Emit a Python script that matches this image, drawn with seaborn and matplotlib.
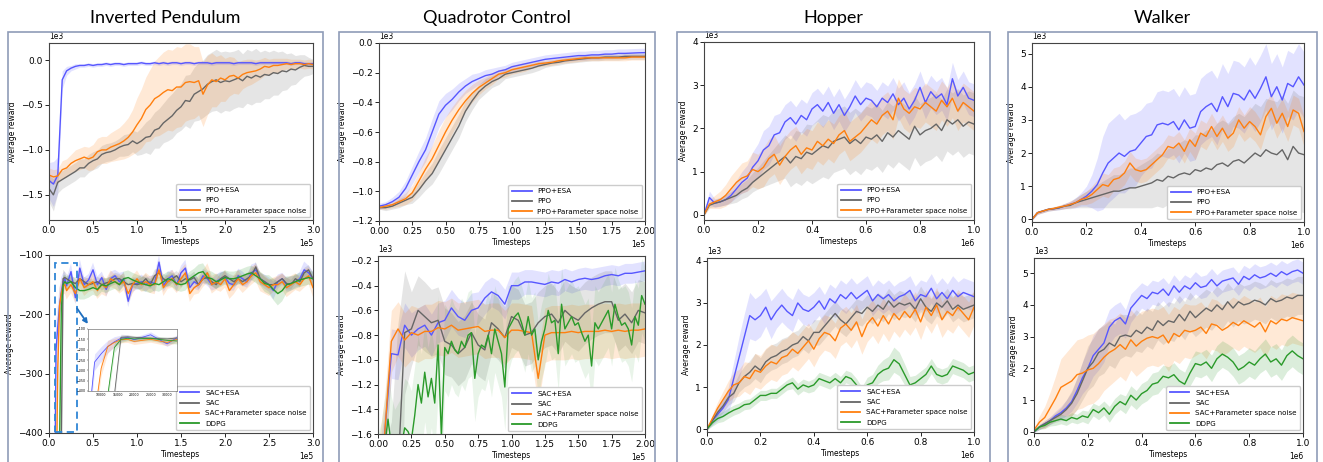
import numpy as np
import matplotlib
matplotlib.use("Agg")
import matplotlib.pyplot as plt
import seaborn as sns
from matplotlib.patches import Rectangle

# ---------------- DATA (rewards in units of 1e3 unless noted) ----------------
# Inverted Pendulum, PPO family (x: 0..3e5)
IP_PPO_ESA = [-1.34, -1.38, -1.28, -0.22, -0.12, -0.09, -0.07, -0.06, -0.06, -0.05,
              -0.06, -0.05, -0.05, -0.04, -0.05, -0.04, -0.04, -0.05, -0.04, -0.04,
              -0.04, -0.03, -0.04, -0.04, -0.03, -0.04, -0.03, -0.04, -0.03, -0.03,
              -0.04, -0.03, -0.03, -0.04, -0.03, -0.03, -0.03, -0.04, -0.03, -0.03,
              -0.03, -0.03, -0.04, -0.03, -0.03, -0.03, -0.03, -0.04, -0.03, -0.03,
              -0.03, -0.03, -0.03, -0.03, -0.03, -0.04, -0.03, -0.03, -0.04, -0.04, -0.04]
IP_PPO_ESA_SD = [0.2, 0.25, 0.2, 0.1, 0.05, 0.03, 0.03, 0.02, 0.02, 0.02,
                 0.02, 0.02, 0.02, 0.02, 0.02, 0.02, 0.02, 0.02, 0.02, 0.02,
                 0.02, 0.02, 0.02, 0.02, 0.02, 0.02, 0.02, 0.02, 0.02, 0.02,
                 0.02, 0.02, 0.02, 0.02, 0.02, 0.02, 0.02, 0.02, 0.02, 0.02,
                 0.02, 0.02, 0.02, 0.02, 0.02, 0.02, 0.02, 0.02, 0.02, 0.02,
                 0.02, 0.02, 0.02, 0.02, 0.02, 0.02, 0.02, 0.02, 0.02, 0.02, 0.02]
IP_PPO = [-1.43, -1.5, -1.36, -1.33, -1.3, -1.27, -1.24, -1.2, -1.2, -1.15,
          -1.12, -1.1, -1.05, -1.03, -1.02, -1.0, -0.97, -0.95, -0.94, -0.9,
          -0.93, -0.9, -0.86, -0.85, -0.78, -0.76, -0.7, -0.66, -0.62, -0.56,
          -0.52, -0.45, -0.46, -0.38, -0.35, -0.32, -0.27, -0.24, -0.22, -0.25,
          -0.23, -0.24, -0.22, -0.2, -0.23, -0.18, -0.2, -0.17, -0.19, -0.16,
          -0.17, -0.14, -0.15, -0.12, -0.13, -0.1, -0.11, -0.08, -0.06, -0.07, -0.07]
IP_PPO_SD = [0.15, 0.18, 0.12, 0.1, 0.1, 0.1, 0.1, 0.1, 0.1, 0.1,
             0.1, 0.1, 0.1, 0.1, 0.1, 0.1, 0.1, 0.12, 0.12, 0.12,
             0.13, 0.15, 0.17, 0.2, 0.2, 0.22, 0.22, 0.24, 0.25, 0.25,
             0.26, 0.28, 0.3, 0.3, 0.32, 0.32, 0.33, 0.33, 0.34, 0.34,
             0.33, 0.33, 0.32, 0.32, 0.3, 0.3, 0.3, 0.3, 0.28, 0.27,
             0.26, 0.25, 0.24, 0.22, 0.2, 0.18, 0.16, 0.14, 0.12, 0.1, 0.08]
IP_PPO_PAR = [-1.28, -1.3, -1.29, -1.22, -1.2, -1.15, -1.12, -1.1, -1.08, -1.1,
              -1.08, -1.02, -1.0, -1.0, -0.97, -0.95, -0.93, -0.9, -0.86, -0.8,
              -0.72, -0.65, -0.55, -0.5, -0.43, -0.4, -0.36, -0.33, -0.34, -0.3,
              -0.3, -0.25, -0.24, -0.25, -0.23, -0.38, -0.28, -0.22, -0.24, -0.2,
              -0.22, -0.18, -0.17, -0.2, -0.16, -0.14, -0.13, -0.12, -0.1, -0.07,
              -0.08, -0.06, -0.06, -0.05, -0.04, -0.05, -0.04, -0.04, -0.05, -0.04, -0.05]
IP_PPO_PAR_SD = [0.08, 0.08, 0.08, 0.1, 0.1, 0.1, 0.12, 0.12, 0.12, 0.13,
                 0.14, 0.15, 0.15, 0.15, 0.16, 0.17, 0.18, 0.2, 0.22, 0.25,
                 0.3, 0.33, 0.36, 0.4, 0.42, 0.44, 0.45, 0.45, 0.45, 0.45,
                 0.44, 0.43, 0.42, 0.4, 0.38, 0.36, 0.33, 0.3, 0.28, 0.26,
                 0.24, 0.22, 0.2, 0.18, 0.16, 0.15, 0.14, 0.12, 0.11, 0.1,
                 0.09, 0.08, 0.08, 0.07, 0.06, 0.06, 0.05, 0.05, 0.05, 0.05, 0.05]

# Inverted Pendulum, SAC family (raw reward units; x in timesteps)
IP_SAC_X_EARLY = [0, 5000, 7000, 8000, 10000, 12000, 14000, 16000, 18000]
IP_SAC_X_LATE_RANGE = (20000, 300000)
IP_SAC_ESA = [-1500, -900, -420, -260, -220, -185, -162, -145, -140,
              -152, -128, -172, -122, -150, -142, -125, -150, -138, -158,
              -140, -135, -145, -140, -178, -150, -148, -145, -150, -145,
              -148, -112, -152, -140, -135, -150, -130, -122, -155, -145,
              -150, -135, -140, -150, -145, -140, -138, -148, -150, -135,
              -140, -145, -130, -125, -140, -145, -150, -160, -145, -140,
              -150, -148, -145, -140, -125, -130, -140]
IP_SAC_ESA_SD = [0, 0, 40, 40, 35, 30, 25, 15, 12,
                 12, 14, 12, 15, 12, 10, 12, 14, 10, 12,
                 12, 10, 15, 12, 10, 12, 10, 12, 12, 10,
                 15, 12, 10, 12, 10, 12, 12, 14, 10, 12,
                 10, 12, 12, 10, 12, 12, 10, 12, 10, 12,
                 12, 10, 14, 12, 10, 12, 12, 15, 12, 10,
                 12, 12, 10, 12, 14, 12, 12]
IP_SAC = [-1500, -1400, -1300, -1200, -900, -700, -420, -140, -138,
          -140, -145, -148, -140, -145, -150, -148, -145, -150, -147,
          -145, -140, -140, -145, -150, -148, -150, -148, -140, -150,
          -135, -130, -140, -145, -140, -135, -145, -140, -142, -138,
          -150, -140, -138, -145, -150, -140, -135, -140, -145, -140,
          -145, -140, -135, -120, -140, -145, -150, -150, -145, -140,
          -148, -150, -140, -145, -130, -125, -140]
IP_SAC_SD = [0, 0, 0, 0, 30, 30, 30, 15, 10,
             8, 8, 10, 8, 8, 10, 8, 8, 10, 8,
             8, 10, 8, 8, 10, 8, 8, 10, 8, 8,
             10, 8, 8, 10, 8, 8, 10, 8, 8, 10,
             8, 8, 10, 8, 8, 10, 8, 8, 10, 8,
             8, 10, 8, 8, 10, 8, 8, 10, 8, 8,
             10, 8, 8, 10, 8, 8, 10]
IP_SAC_PAR = [-1500, -1100, -700, -520, -290, -185, -165, -152, -150,
              -160, -150, -165, -140, -155, -150, -145, -160, -150, -155,
              -140, -145, -150, -145, -165, -150, -140, -150, -145, -150,
              -150, -125, -155, -145, -140, -150, -140, -130, -165, -155,
              -150, -140, -130, -150, -145, -150, -140, -160, -150, -140,
              -150, -145, -135, -130, -145, -150, -155, -150, -150, -145,
              -155, -150, -145, -150, -140, -135, -155]
IP_SAC_PAR_SD = [0, 0, 40, 40, 35, 30, 20, 15, 15,
                 15, 14, 16, 15, 14, 12, 15, 14, 16, 15,
                 14, 12, 15, 14, 16, 15, 14, 12, 15, 14,
                 16, 15, 14, 12, 15, 14, 16, 15, 14, 12,
                 15, 14, 16, 15, 14, 12, 15, 14, 16, 15,
                 14, 12, 15, 14, 16, 15, 14, 12, 15, 14,
                 16, 15, 14, 12, 15, 14, 16]
IP_DDPG = [-1500, -1300, -1100, -1000, -700, -420, -190, -150, -145,
           -148, -145, -155, -160, -160, -158, -155, -158, -150, -152,
           -148, -145, -150, -140, -138, -142, -145, -148, -150, -152,
           -148, -150, -145, -140, -142, -148, -150, -148, -140, -135,
           -130, -128, -138, -140, -145, -142, -138, -140, -140, -138,
           -135, -132, -130, -135, -140, -148, -150, -158, -165, -160,
           -150, -148, -145, -142, -140, -138, -140]
IP_DDPG_SD = [0, 0, 0, 0, 30, 30, 25, 15, 12,
              12, 12, 14, 15, 15, 14, 12, 12, 12, 12,
              12, 12, 12, 12, 12, 12, 12, 12, 12, 12,
              12, 12, 12, 12, 12, 12, 12, 12, 12, 12,
              14, 14, 12, 12, 12, 12, 12, 12, 12, 12,
              12, 12, 12, 12, 12, 14, 16, 18, 20, 18,
              14, 12, 12, 12, 12, 12, 12]

# Quadrotor Control, PPO family (x: 0..2e5)
QC_PPO_ESA = [-1.10, -1.09, -1.07, -1.04, -0.98, -0.89, -0.8, -0.72, -0.6, -0.48,
              -0.42, -0.38, -0.33, -0.29, -0.26, -0.24, -0.22, -0.21, -0.19, -0.18,
              -0.16, -0.15, -0.14, -0.13, -0.12, -0.11, -0.105, -0.1, -0.095, -0.09,
              -0.085, -0.085, -0.08, -0.08, -0.075, -0.075, -0.07, -0.07, -0.068, -0.066, -0.065]
QC_PPO_ESA_SD = [0.02, 0.02, 0.03, 0.04, 0.05, 0.06, 0.07, 0.08, 0.09, 0.09,
                 0.08, 0.07, 0.06, 0.05, 0.05, 0.04, 0.04, 0.04, 0.03, 0.03,
                 0.03, 0.03, 0.03, 0.03, 0.03, 0.03, 0.03, 0.03, 0.03, 0.03,
                 0.03, 0.03, 0.03, 0.03, 0.03, 0.03, 0.03, 0.03, 0.03, 0.03, 0.03]
QC_PPO = [-1.11, -1.11, -1.1, -1.08, -1.06, -1.04, -0.99, -0.93, -0.88, -0.8,
          -0.72, -0.64, -0.56, -0.46, -0.39, -0.33, -0.29, -0.26, -0.24, -0.21,
          -0.2, -0.19, -0.18, -0.17, -0.155, -0.145, -0.135, -0.13, -0.12, -0.115,
          -0.11, -0.105, -0.1, -0.1, -0.095, -0.095, -0.095, -0.09, -0.09, -0.09, -0.09]
QC_PPO_SD = [0.01, 0.02, 0.02, 0.03, 0.03, 0.04, 0.05, 0.06, 0.07, 0.08,
             0.08, 0.08, 0.08, 0.07, 0.06, 0.05, 0.05, 0.04, 0.04, 0.03,
             0.03, 0.03, 0.03, 0.03, 0.03, 0.02, 0.02, 0.02, 0.02, 0.02,
             0.02, 0.02, 0.02, 0.02, 0.02, 0.02, 0.02, 0.02, 0.02, 0.02, 0.02]
QC_PPO_PAR = [-1.11, -1.1, -1.09, -1.07, -1.05, -1.01, -0.93, -0.85, -0.78, -0.69,
              -0.6, -0.52, -0.45, -0.39, -0.34, -0.3, -0.27, -0.24, -0.21, -0.2,
              -0.18, -0.17, -0.16, -0.15, -0.14, -0.135, -0.13, -0.12, -0.115, -0.11,
              -0.105, -0.1, -0.1, -0.1, -0.1, -0.1, -0.1, -0.1, -0.095, -0.095, -0.095]
QC_PPO_PAR_SD = [0.01, 0.02, 0.02, 0.03, 0.04, 0.05, 0.06, 0.08, 0.09, 0.1,
                 0.1, 0.09, 0.08, 0.07, 0.06, 0.05, 0.04, 0.04, 0.03, 0.03,
                 0.03, 0.03, 0.03, 0.02, 0.02, 0.02, 0.02, 0.02, 0.02, 0.02,
                 0.02, 0.02, 0.02, 0.02, 0.02, 0.02, 0.02, 0.02, 0.02, 0.02, 0.02]

# Quadrotor Control, SAC family (x: 0..2e5)
QC_SAC_ESA = [-2.0, -1.6, -0.95, -0.96, -0.72, -0.8, -0.75, -0.72, -0.8, -0.7,
              -0.68, -0.58, -0.65, -0.68, -0.6, -0.58, -0.5, -0.45, -0.48, -0.55,
              -0.4, -0.4, -0.37, -0.37, -0.38, -0.39, -0.37, -0.38, -0.35, -0.37,
              -0.35, -0.34, -0.35, -0.34, -0.32, -0.31, -0.32, -0.3, -0.3, -0.29, -0.28]
QC_SAC_ESA_SD = [0.2, 0.2, 0.2, 0.2, 0.18, 0.18, 0.17, 0.17, 0.17, 0.16,
                 0.16, 0.15, 0.15, 0.14, 0.14, 0.13, 0.13, 0.12, 0.12, 0.12,
                 0.11, 0.11, 0.1, 0.1, 0.1, 0.1, 0.1, 0.1, 0.09, 0.09,
                 0.09, 0.09, 0.09, 0.09, 0.08, 0.08, 0.08, 0.08, 0.08, 0.08, 0.08]
QC_SAC = [-2.0, -2.0, -2.0, -1.9, -0.78, -0.75, -0.6, -0.65, -0.7, -0.68,
          -0.85, -0.88, -0.95, -0.9, -0.78, -0.88, -0.92, -0.7, -0.75, -0.82,
          -0.65, -0.68, -0.8, -0.78, -0.7, -0.65, -0.63, -0.7, -0.6, -0.65,
          -0.68, -0.62, -0.58, -0.55, -0.53, -0.53, -0.68, -0.63, -0.7, -0.6, -0.62]
QC_SAC_SD = [0.3, 0.3, 0.5, 1.2, 0.5, 0.3, 0.28, 0.28, 0.27, 0.27,
             0.27, 0.26, 0.26, 0.26, 0.25, 0.25, 0.25, 0.25, 0.25, 0.25,
             0.25, 0.25, 0.25, 0.25, 0.25, 0.25, 0.25, 0.25, 0.25, 0.25,
             0.25, 0.25, 0.25, 0.25, 0.25, 0.25, 0.25, 0.25, 0.25, 0.25, 0.25]
QC_SAC_PAR = [-2.0, -1.6, -0.85, -0.75, -0.84, -0.78, -0.8, -0.77, -0.77, -0.74,
              -0.75, -0.72, -0.76, -0.75, -0.74, -0.73, -0.77, -0.76, -0.76, -0.82,
              -0.76, -0.76, -0.77, -0.78, -1.15, -0.8, -0.78, -0.78, -0.78, -0.77,
              -0.78, -0.77, -0.77, -0.77, -0.76, -0.77, -0.76, -0.77, -0.76, -0.76, -0.75]
QC_SAC_PAR_SD = [0.3, 0.3, 0.25, 0.22, 0.22, 0.22, 0.22, 0.22, 0.22, 0.22,
                 0.22, 0.22, 0.22, 0.22, 0.22, 0.22, 0.22, 0.22, 0.22, 0.22,
                 0.22, 0.22, 0.22, 0.22, 0.22, 0.22, 0.22, 0.22, 0.22, 0.22,
                 0.22, 0.22, 0.22, 0.22, 0.22, 0.22, 0.22, 0.22, 0.22, 0.22, 0.22]
QC_DDPG = [-2.0, -1.9, -1.7, -1.48, -1.7, -1.8, -1.75, -1.7, -1.55, -1.58,
           -1.65, -1.45, -1.2, -1.35, -1.1, -1.3, -1.15, -1.35, -0.88, -1.62,
           -0.9, -0.95, -0.85, -0.92, -0.95, -0.85, -0.9, -0.8, -0.78, -1.15,
           -0.95, -0.88, -0.9, -0.8, -0.95, -0.75, -0.85, -0.95, -1.22, -0.75,
           -0.7, -0.65, -0.62, -0.7, -0.8, -0.65, -0.8, -0.75, -1.0, -0.85,
           -0.75, -0.6, -0.7, -0.68, -0.95, -0.55, -0.75, -0.7, -0.65, -0.72,
           -0.7, -0.78, -0.85, -0.8, -1.05, -0.7, -0.75, -0.7, -0.65, -0.6,
           -0.75, -0.55, -0.65, -0.72, -0.7, -0.75, -0.88, -0.65, -0.72, -0.48, -0.55]
QC_DDPG_SD = [0.4, 0.4, 0.4, 0.4, 0.4, 0.4, 0.4, 0.4, 0.4, 0.4,
              0.4, 0.4, 0.4, 0.4, 0.4, 0.4, 0.4, 0.4, 0.4, 0.4,
              0.35, 0.35, 0.35, 0.35, 0.35, 0.35, 0.35, 0.35, 0.35, 0.35,
              0.35, 0.35, 0.35, 0.35, 0.35, 0.35, 0.35, 0.35, 0.35, 0.35,
              0.3, 0.3, 0.3, 0.3, 0.3, 0.3, 0.3, 0.3, 0.3, 0.3,
              0.3, 0.3, 0.3, 0.3, 0.3, 0.3, 0.3, 0.3, 0.3, 0.3,
              0.3, 0.3, 0.3, 0.3, 0.3, 0.3, 0.3, 0.3, 0.3, 0.3,
              0.3, 0.3, 0.3, 0.3, 0.3, 0.3, 0.3, 0.3, 0.3, 0.3, 0.3]

# Hopper, PPO family (x: 0..1e6)
HO_PPO_ESA = [0.0, 0.4, 0.27, 0.3, 0.35, 0.45, 0.6, 0.75, 0.85, 1.1,
              1.25, 1.5, 1.6, 1.85, 1.9, 2.15, 2.25, 2.1, 2.3, 2.2,
              2.45, 2.55, 2.4, 2.6, 2.35, 2.55, 2.3, 2.5, 2.75, 2.55,
              2.7, 2.65, 2.5, 2.7, 2.6, 2.8, 2.55, 2.7, 2.45, 2.65,
              2.95, 2.6, 2.85, 2.7, 2.8, 2.55, 3.15, 2.75, 2.95, 2.7, 2.65]
HO_PPO_ESA_SD = [0.02, 0.15, 0.1, 0.1, 0.12, 0.15, 0.2, 0.25, 0.3, 0.35,
                 0.4, 0.45, 0.45, 0.45, 0.45, 0.4, 0.4, 0.4, 0.38, 0.38,
                 0.38, 0.38, 0.38, 0.38, 0.38, 0.38, 0.38, 0.38, 0.38, 0.38,
                 0.38, 0.38, 0.38, 0.38, 0.38, 0.38, 0.38, 0.38, 0.38, 0.38,
                 0.38, 0.38, 0.38, 0.38, 0.38, 0.38, 0.38, 0.38, 0.38, 0.38, 0.38]
HO_PPO = [0.0, 0.22, 0.27, 0.3, 0.35, 0.4, 0.45, 0.55, 0.62, 0.75,
          0.85, 0.95, 1.05, 1.15, 1.25, 1.35, 1.2, 1.35, 1.3, 1.45,
          1.4, 1.5, 1.6, 1.55, 1.7, 1.75, 1.8, 1.65, 1.75, 1.65,
          1.8, 1.75, 1.85, 1.7, 1.9, 1.8, 1.95, 1.85, 1.75, 2.05,
          1.85, 1.95, 2.0, 2.1, 1.95, 2.2, 2.1, 2.2, 2.05, 2.15, 2.1]
HO_PPO_SD = [0.02, 0.05, 0.08, 0.1, 0.12, 0.14, 0.16, 0.18, 0.2, 0.22,
             0.25, 0.3, 0.35, 0.4, 0.45, 0.5, 0.55, 0.6, 0.62, 0.65,
             0.68, 0.7, 0.72, 0.72, 0.72, 0.72, 0.72, 0.72, 0.72, 0.72,
             0.72, 0.72, 0.72, 0.72, 0.72, 0.72, 0.72, 0.72, 0.72, 0.72,
             0.72, 0.72, 0.72, 0.72, 0.72, 0.72, 0.72, 0.72, 0.72, 0.72, 0.72]
HO_PPO_PAR = [0.0, 0.25, 0.3, 0.35, 0.45, 0.6, 0.75, 0.85, 0.9, 1.05,
              1.0, 1.1, 1.3, 1.4, 1.15, 1.35, 1.5, 1.6, 1.4, 1.55,
              1.5, 1.7, 1.6, 1.75, 1.65, 1.85, 1.95, 1.7, 1.8, 1.9,
              2.05, 2.2, 2.1, 2.3, 2.4, 2.2, 2.7, 2.45, 2.35, 2.5,
              2.45, 2.6, 2.5, 2.4, 2.65, 2.5, 2.7, 2.4, 2.6, 2.5, 2.4]
HO_PPO_PAR_SD = [0.02, 0.1, 0.15, 0.2, 0.25, 0.3, 0.3, 0.35, 0.35, 0.4,
                 0.4, 0.45, 0.45, 0.45, 0.45, 0.45, 0.45, 0.45, 0.45, 0.45,
                 0.45, 0.45, 0.45, 0.45, 0.45, 0.45, 0.45, 0.45, 0.45, 0.45,
                 0.45, 0.45, 0.45, 0.45, 0.45, 0.45, 0.45, 0.45, 0.45, 0.45,
                 0.45, 0.45, 0.45, 0.45, 0.45, 0.45, 0.45, 0.45, 0.45, 0.45, 0.45]

# Hopper, SAC family
HO_SAC_ESA = [0.0, 0.2, 0.35, 0.5, 0.7, 1.2, 1.7, 2.2, 2.7, 2.6,
              2.7, 2.9, 2.6, 2.8, 2.95, 2.8, 2.7, 3.0, 2.85, 2.8,
              2.9, 3.05, 2.85, 3.1, 3.0, 3.2, 3.1, 3.25, 3.1, 3.2,
              3.3, 3.05, 3.2, 3.1, 3.2, 3.05, 3.15, 3.2, 3.3, 3.05,
              3.2, 3.15, 3.35, 3.1, 3.25, 3.1, 3.3, 3.15, 3.25, 3.2, 3.15]
HO_SAC_ESA_SD = [0.02, 0.1, 0.15, 0.2, 0.3, 0.4, 0.5, 0.55, 0.55, 0.5,
                 0.5, 0.45, 0.45, 0.4, 0.4, 0.38, 0.38, 0.36, 0.36, 0.35,
                 0.35, 0.35, 0.35, 0.35, 0.35, 0.35, 0.35, 0.35, 0.35, 0.35,
                 0.35, 0.35, 0.35, 0.35, 0.35, 0.35, 0.35, 0.35, 0.35, 0.35,
                 0.35, 0.35, 0.35, 0.35, 0.35, 0.35, 0.35, 0.35, 0.35, 0.35, 0.35]
HO_SAC = [0.0, 0.2, 0.4, 0.55, 0.75, 0.85, 1.1, 1.25, 1.35, 1.5,
          1.4, 1.6, 1.7, 1.75, 1.85, 1.9, 2.0, 2.05, 2.2, 2.1,
          2.3, 2.3, 2.45, 2.6, 2.75, 2.6, 2.5, 2.65, 2.8, 2.75,
          2.9, 2.8, 2.95, 2.85, 3.05, 2.9, 3.0, 2.95, 3.0, 2.85,
          3.1, 2.9, 2.8, 3.0, 2.9, 3.05, 2.85, 2.95, 2.85, 2.9, 2.95]
HO_SAC_SD = [0.02, 0.08, 0.12, 0.15, 0.18, 0.2, 0.22, 0.25, 0.28, 0.3,
             0.3, 0.3, 0.3, 0.3, 0.3, 0.3, 0.3, 0.3, 0.3, 0.3,
             0.3, 0.3, 0.3, 0.3, 0.3, 0.3, 0.3, 0.3, 0.3, 0.3,
             0.3, 0.3, 0.3, 0.3, 0.3, 0.3, 0.3, 0.3, 0.3, 0.3,
             0.3, 0.3, 0.3, 0.3, 0.3, 0.3, 0.3, 0.3, 0.3, 0.3, 0.3]
HO_SAC_PAR = [0.0, 0.25, 0.5, 0.7, 0.9, 1.05, 1.1, 1.25, 1.2, 1.4,
              1.35, 1.5, 1.6, 1.55, 1.7, 1.75, 1.9, 1.8, 1.95, 2.1,
              1.9, 2.15, 2.3, 2.25, 2.1, 2.4, 2.5, 2.35, 2.55, 2.2,
              2.5, 2.65, 2.45, 2.7, 2.5, 2.75, 2.6, 2.8, 2.65, 2.85,
              2.55, 2.9, 2.7, 2.95, 2.6, 2.8, 2.7, 2.9, 2.75, 2.6, 2.9]
HO_SAC_PAR_SD = [0.02, 0.1, 0.15, 0.2, 0.25, 0.3, 0.32, 0.35, 0.38, 0.4,
                 0.4, 0.42, 0.42, 0.42, 0.42, 0.42, 0.42, 0.42, 0.42, 0.42,
                 0.42, 0.42, 0.42, 0.42, 0.42, 0.42, 0.42, 0.42, 0.42, 0.42,
                 0.42, 0.42, 0.42, 0.42, 0.42, 0.42, 0.42, 0.42, 0.42, 0.42,
                 0.42, 0.42, 0.42, 0.42, 0.42, 0.42, 0.42, 0.42, 0.42, 0.42, 0.42]
HO_DDPG = [0.0, 0.15, 0.25, 0.3, 0.38, 0.45, 0.5, 0.58, 0.6, 0.7,
           0.8, 0.8, 0.85, 0.85, 0.95, 1.05, 1.1, 0.95, 1.05, 1.0,
           1.05, 1.2, 1.15, 1.1, 1.2, 1.1, 1.25, 1.2, 1.05, 0.85,
           1.05, 1.1, 1.3, 1.4, 1.45, 1.65, 1.55, 1.3, 1.05, 1.1,
           1.2, 1.3, 1.5, 1.3, 1.25, 1.3, 1.5, 1.45, 1.4, 1.3, 1.35]
HO_DDPG_SD = [0.02, 0.08, 0.1, 0.12, 0.12, 0.12, 0.12, 0.12, 0.12, 0.12,
              0.12, 0.12, 0.12, 0.12, 0.12, 0.12, 0.14, 0.14, 0.14, 0.14,
              0.15, 0.15, 0.15, 0.15, 0.15, 0.15, 0.15, 0.15, 0.15, 0.15,
              0.18, 0.2, 0.22, 0.25, 0.28, 0.3, 0.28, 0.25, 0.2, 0.18,
              0.18, 0.18, 0.18, 0.18, 0.18, 0.18, 0.18, 0.18, 0.18, 0.18, 0.18]

# Walker, PPO family
WA_PPO_ESA = [0.0, 0.2, 0.25, 0.3, 0.32, 0.35, 0.4, 0.45, 0.5, 0.6,
              0.7, 0.85, 1.05, 1.4, 1.7, 1.85, 2.0, 1.9, 2.05, 2.1,
              2.3, 2.5, 2.55, 2.85, 2.9, 2.85, 2.95, 2.7, 3.0, 2.75,
              2.8, 3.25, 3.4, 3.5, 3.25, 3.7, 3.4, 3.8, 3.75, 3.6,
              3.9, 3.65, 3.95, 4.3, 3.7, 4.0, 3.6, 4.1, 4.0, 4.3, 4.05]
WA_PPO_ESA_SD = [0.02, 0.05, 0.05, 0.05, 0.05, 0.06, 0.08, 0.1, 0.15, 0.2,
                 0.3, 0.5, 0.8, 1.1, 1.2, 1.2, 1.2, 1.1, 1.1, 1.1,
                 1.0, 1.0, 1.0, 1.0, 1.0, 1.0, 1.0, 1.0, 1.0, 1.0,
                 1.0, 1.0, 1.0, 1.0, 1.0, 1.0, 1.0, 1.0, 1.0, 1.0,
                 1.0, 1.0, 1.0, 1.0, 1.0, 1.0, 1.0, 1.0, 1.0, 1.0, 1.0]
WA_PPO = [0.0, 0.2, 0.25, 0.3, 0.32, 0.35, 0.4, 0.42, 0.5, 0.55,
          0.6, 0.65, 0.7, 0.75, 0.8, 0.85, 0.85, 0.9, 0.95, 0.95,
          1.0, 1.05, 1.1, 1.2, 1.15, 1.3, 1.25, 1.35, 1.4, 1.35,
          1.5, 1.45, 1.55, 1.5, 1.65, 1.7, 1.6, 1.75, 1.8, 1.7,
          1.85, 2.0, 1.9, 2.1, 2.0, 1.95, 2.1, 1.8, 2.2, 2.0, 1.95]
WA_PPO_SD = [0.02, 0.05, 0.05, 0.05, 0.05, 0.06, 0.08, 0.1, 0.15, 0.2,
             0.25, 0.3, 0.35, 0.4, 0.45, 0.5, 0.5, 0.55, 0.6, 0.6,
             0.65, 0.7, 0.75, 0.8, 0.8, 0.85, 0.9, 0.95, 1.0, 1.0,
             1.05, 1.1, 1.15, 1.2, 1.25, 1.3, 1.3, 1.35, 1.4, 1.4,
             1.45, 1.5, 1.5, 1.55, 1.6, 1.6, 1.65, 1.7, 1.7, 1.75, 1.75]
WA_PPO_PAR = [0.0, 0.2, 0.25, 0.3, 0.33, 0.37, 0.4, 0.45, 0.5, 0.6,
              0.65, 0.75, 0.9, 1.05, 1.0, 1.2, 1.25, 1.4, 1.7, 1.5,
              1.45, 1.5, 1.65, 1.8, 1.95, 2.2, 2.15, 2.3, 2.05, 2.4,
              2.2, 2.6, 2.5, 2.8, 2.5, 2.75, 2.45, 2.6, 3.0, 2.75,
              2.95, 2.8, 2.55, 3.1, 3.35, 2.9, 3.2, 2.8, 3.3, 3.2, 2.65]
WA_PPO_PAR_SD = [0.02, 0.05, 0.05, 0.05, 0.05, 0.06, 0.08, 0.1, 0.12, 0.15,
                 0.2, 0.25, 0.3, 0.35, 0.35, 0.35, 0.35, 0.35, 0.35, 0.35,
                 0.35, 0.35, 0.35, 0.35, 0.35, 0.35, 0.35, 0.35, 0.35, 0.35,
                 0.4, 0.4, 0.4, 0.4, 0.4, 0.4, 0.4, 0.4, 0.4, 0.4,
                 0.45, 0.45, 0.45, 0.45, 0.45, 0.45, 0.45, 0.45, 0.45, 0.45, 0.45]

# Walker, SAC family
WA_SAC_ESA = [0.0, 0.15, 0.25, 0.35, 0.5, 0.6, 0.75, 0.95, 1.3, 1.7,
              2.0, 2.4, 2.6, 2.8, 3.3, 3.5, 3.6, 3.4, 3.9, 4.1,
              4.3, 4.2, 4.4, 4.35, 4.5, 4.3, 4.6, 4.4, 4.6, 4.5,
              4.7, 4.55, 4.6, 4.8, 4.6, 4.75, 4.8, 4.85, 4.65, 4.9,
              4.8, 4.95, 4.85, 4.9, 5.0, 4.9, 5.05, 4.95, 5.05, 5.1, 5.0]
WA_SAC_ESA_SD = [0.02, 0.08, 0.1, 0.12, 0.15, 0.2, 0.25, 0.3, 0.4, 0.5,
                 0.6, 0.65, 0.65, 0.6, 0.55, 0.5, 0.5, 0.45, 0.45, 0.42,
                 0.4, 0.4, 0.38, 0.38, 0.36, 0.36, 0.35, 0.35, 0.35, 0.35,
                 0.35, 0.35, 0.35, 0.35, 0.35, 0.35, 0.35, 0.35, 0.35, 0.35,
                 0.35, 0.35, 0.35, 0.35, 0.35, 0.35, 0.35, 0.35, 0.35, 0.35, 0.35]
WA_SAC = [0.0, 0.15, 0.25, 0.35, 0.45, 0.55, 0.7, 0.9, 1.2, 1.6,
          2.0, 2.2, 2.5, 2.6, 2.8, 2.7, 3.0, 3.05, 3.0, 3.2,
          3.1, 3.3, 3.2, 3.5, 3.35, 3.5, 3.45, 3.7, 3.5, 3.8,
          3.6, 3.75, 3.9, 3.8, 4.0, 3.85, 4.1, 3.9, 4.1, 4.0,
          4.05, 4.15, 4.1, 4.0, 4.2, 4.1, 4.15, 4.25, 4.2, 4.3, 4.3]
WA_SAC_SD = [0.02, 0.08, 0.1, 0.12, 0.15, 0.2, 0.3, 0.4, 0.5, 0.6,
             0.7, 0.75, 0.75, 0.75, 0.7, 0.7, 0.7, 0.65, 0.65, 0.65,
             0.6, 0.6, 0.6, 0.6, 0.6, 0.6, 0.6, 0.6, 0.6, 0.6,
             0.6, 0.6, 0.6, 0.6, 0.6, 0.6, 0.6, 0.6, 0.6, 0.6,
             0.6, 0.6, 0.6, 0.6, 0.6, 0.6, 0.6, 0.6, 0.6, 0.6, 0.6]
WA_SAC_PAR = [0.05, 0.3, 0.45, 0.75, 1.05, 1.4, 1.5, 1.6, 1.8, 1.85,
              1.95, 2.0, 2.15, 2.35, 2.5, 2.6, 2.75, 2.6, 2.9, 2.7,
              2.85, 2.95, 3.0, 2.95, 3.05, 2.8, 3.1, 3.0, 3.2, 3.15,
              3.2, 3.3, 3.1, 3.4, 3.35, 3.2, 3.3, 3.45, 3.35, 3.5,
              3.4, 3.3, 3.45, 3.15, 3.5, 3.4, 3.55, 3.5, 3.6, 3.55, 3.5]
WA_SAC_PAR_SD = [0.05, 0.2, 0.35, 0.5, 0.7, 0.9, 1.0, 1.1, 1.1, 1.1,
                 1.1, 1.1, 1.1, 1.05, 1.05, 1.0, 1.0, 1.0, 0.95, 0.95,
                 0.95, 0.9, 0.9, 0.9, 0.9, 0.9, 0.85, 0.85, 0.85, 0.85,
                 0.8, 0.8, 0.8, 0.8, 0.8, 0.8, 0.8, 0.8, 0.8, 0.8,
                 0.8, 0.8, 0.8, 0.8, 0.8, 0.8, 0.8, 0.8, 0.8, 0.8, 0.8]
WA_DDPG = [0.0, 0.15, 0.2, 0.3, 0.35, 0.4, 0.35, 0.45, 0.4, 0.5,
           0.45, 0.7, 0.6, 0.75, 0.55, 0.8, 0.95, 0.85, 1.15, 1.0,
           1.2, 1.3, 1.5, 1.55, 1.75, 1.7, 1.8, 1.6, 1.5, 1.85,
           2.15, 2.1, 2.2, 2.0, 2.3, 2.45, 2.35, 2.2, 1.95, 2.05,
           2.2, 2.1, 2.3, 2.45, 2.2, 2.3, 2.1, 2.4, 2.55, 2.4, 2.3]
WA_DDPG_SD = [0.02, 0.08, 0.1, 0.12, 0.15, 0.15, 0.15, 0.15, 0.15, 0.18,
              0.2, 0.2, 0.22, 0.22, 0.25, 0.25, 0.25, 0.28, 0.3, 0.3,
              0.32, 0.32, 0.35, 0.35, 0.35, 0.35, 0.38, 0.38, 0.38, 0.4,
              0.4, 0.4, 0.4, 0.42, 0.42, 0.42, 0.42, 0.45, 0.45, 0.45,
              0.45, 0.45, 0.45, 0.48, 0.48, 0.48, 0.48, 0.5, 0.5, 0.5, 0.5]

TITLES = ["Inverted Pendulum", "Quadrotor Control", "Hopper", "Walker"]
PPO_LABELS = ["PPO+ESA", "PPO", "PPO+Parameter space noise"]
SAC_LABELS = ["SAC+ESA", "SAC", "SAC+Parameter space noise", "DDPG"]

# ---------------- STYLE ----------------
C_ESA = "#5757ff"
C_BASE = "#666666"
C_PAR = "#ff7f0e"
C_DDPG = "#2a9a2a"
COLORS = [C_ESA, C_BASE, C_PAR, C_DDPG]

W, H = 1323, 462
fig = plt.figure(figsize=(W / 100, H / 100), dpi=100)
fig.patch.set_facecolor("white")


def add_ax(l, t, r, b):
    return fig.add_axes([l / W, 1 - b / H, (r - l) / W, (b - t) / H])


def fit(a, n):
    a = list(a)
    if len(a) >= n:
        return np.asarray(a[:n], float)
    return np.asarray(a + [a[-1]] * (n - len(a)), float)


def draw(ax, x, y, sd, color, label, scale=1.0, lw=1.0, alpha=0.17):
    y = np.asarray(y, float) * scale
    s = fit(sd, len(y)) * scale
    ax.fill_between(x, y - s, y + s, color=color, alpha=alpha, linewidth=0)
    sns.lineplot(x=x, y=y, ax=ax, color=color, linewidth=lw, label=label,
                 errorbar=None, sort=False)


def grid(xmax, n):
    return np.linspace(0, xmax, n)


def style(ax, xmax, xticks, ylim, yticks, sci_y=True):
    ax.set_xlim(0, xmax)
    ax.set_xticks(xticks)
    ax.set_ylim(*ylim)
    ax.set_yticks(yticks)
    ax.ticklabel_format(axis="x", style="sci", scilimits=(0, 0))
    if sci_y:
        ax.ticklabel_format(axis="y", style="sci", scilimits=(0, 0))
    ax.tick_params(labelsize=6.5, length=3, width=0.6, pad=1.5)
    ax.xaxis.get_offset_text().set_fontsize(5.5)
    ax.yaxis.get_offset_text().set_fontsize(5.5)
    for sp in ax.spines.values():
        sp.set_linewidth(0.8)
        sp.set_color("#444444")
    ax.set_xlabel("Timesteps", fontsize=5.5, labelpad=1)
    ax.set_ylabel("Average reward", fontsize=5.5, labelpad=3)
    ax.set_facecolor("white")


def legend(ax):
    leg = ax.legend(loc="lower right", fontsize=5.1, handlelength=2.8,
                    borderaxespad=0.4, framealpha=1, edgecolor="#cccccc",
                    labelspacing=0.6, borderpad=0.5)
    for line in leg.get_lines():
        line.set_linewidth(1.3)


# ---------------- FRAMES & TITLES ----------------
frames = [(8, 323), (339, 655), (677, 990), (1008, 1317)]
for (l, r), title in zip(frames, TITLES):
    fig.add_artist(Rectangle((l / W, -0.02), (r - l) / W, 1 - 32 / H + 0.02,
                             transform=fig.transFigure, fill=False,
                             edgecolor="#8f9cb8", linewidth=1.2))
    fig.text((l + r) / 2 / W, 1 - 18 / H, title, ha="center", va="center",
             fontsize=13, family="Lato")

# ---------------- Inverted Pendulum ----------------
ax = add_ax(49, 43, 313, 220)
for y, sd, c, lab in zip([IP_PPO_ESA, IP_PPO, IP_PPO_PAR],
                         [IP_PPO_ESA_SD, IP_PPO_SD, IP_PPO_PAR_SD], COLORS, PPO_LABELS):
    draw(ax, grid(3e5, len(y)), y, sd, c, lab, scale=1000)
style(ax, 3e5, np.arange(0, 3.01e5, 0.5e5), (-1780, 190), [-1500, -1000, -500, 0])
legend(ax)

ax = add_ax(49, 255, 313, 433)
sac_sets = [(IP_SAC_ESA, IP_SAC_ESA_SD), (IP_SAC, IP_SAC_SD),
            (IP_SAC_PAR, IP_SAC_PAR_SD), (IP_DDPG, IP_DDPG_SD)]


def ip_x(n):
    late = np.linspace(IP_SAC_X_LATE_RANGE[0], IP_SAC_X_LATE_RANGE[1], n - len(IP_SAC_X_EARLY))
    return np.concatenate([IP_SAC_X_EARLY, late])


for (y, sd), c, lab in zip(sac_sets, COLORS, SAC_LABELS):
    draw(ax, ip_x(len(y)), y, sd, c, lab)
style(ax, 3e5, np.arange(0, 3.01e5, 0.5e5), (-400, -100), [-400, -300, -200, -100], sci_y=False)
legend(ax)
ax.add_patch(Rectangle((0.068e5, -399), 0.252e5, 286, fill=False, linestyle=(0, (4, 2.5)),
                       edgecolor="#2f86d6", linewidth=1.3, clip_on=False, zorder=5))
ax.annotate("", xy=(0.46e5, -220), xytext=(0.3e5, -186),
            arrowprops=dict(arrowstyle="-|>", color="#1f6fbf", lw=1.3, mutation_scale=7),
            zorder=6)

axin = add_ax(88, 329, 177, 391)
for (y, sd), c in zip(sac_sets, COLORS):
    yy = np.asarray(y, float)
    x = ip_x(len(yy))
    s = fit(sd, len(yy))
    axin.fill_between(x, yy - s, yy + s, color=c, alpha=0.17, linewidth=0)
    sns.lineplot(x=x, y=yy, ax=axin, color=c, linewidth=0.6, errorbar=None, sort=False)
axin.set_xlim(6000, 33000)
axin.set_ylim(-400, -100)
axin.set_xticks([10000, 15000, 20000, 25000, 30000])
axin.set_yticks([-400, -350, -300, -250, -200, -150, -100])
axin.tick_params(labelsize=2.3, length=1, width=0.3, pad=0.5)
axin.set_xlabel("")
axin.set_ylabel("")
for sp in axin.spines.values():
    sp.set_linewidth(0.5)
    sp.set_color("#777777")

# ---------------- Quadrotor Control ----------------
qx = np.arange(0, 2.01e5, 0.25e5)
ax = add_ax(379, 43, 645, 221)
for y, sd, c, lab in zip([QC_PPO_ESA, QC_PPO, QC_PPO_PAR],
                         [QC_PPO_ESA_SD, QC_PPO_SD, QC_PPO_PAR_SD], COLORS, PPO_LABELS):
    draw(ax, grid(2e5, len(y)), y, sd, c, lab, scale=1000)
style(ax, 2e5, qx, (-1200, 0), np.arange(-1200, 1, 200))
legend(ax)

ax = add_ax(378, 256, 645, 434)
for y, sd, c, lab in zip([QC_SAC_ESA, QC_SAC, QC_SAC_PAR, QC_DDPG],
                         [QC_SAC_ESA_SD, QC_SAC_SD, QC_SAC_PAR_SD, QC_DDPG_SD], COLORS, SAC_LABELS):
    draw(ax, grid(2e5, len(y)), y, sd, c, lab, scale=1000,
         alpha=0.1 if c == C_DDPG else 0.17)
style(ax, 2e5, qx, (-1600, -160), np.arange(-1600, -199, 200))
legend(ax)

# ---------------- Hopper ----------------
mx = np.arange(0, 1.01e6, 0.2e6)
ax = add_ax(704, 42, 974, 220)
for y, sd, c, lab in zip([HO_PPO_ESA, HO_PPO, HO_PPO_PAR],
                         [HO_PPO_ESA_SD, HO_PPO_SD, HO_PPO_PAR_SD], COLORS, PPO_LABELS):
    draw(ax, grid(1e6, len(y)), y, sd, c, lab, scale=1000)
style(ax, 1e6, mx, (-120, 4000), np.arange(0, 4001, 1000))
legend(ax)

ax = add_ax(707, 258, 974, 432)
for y, sd, c, lab in zip([HO_SAC_ESA, HO_SAC, HO_SAC_PAR, HO_DDPG],
                         [HO_SAC_ESA_SD, HO_SAC_SD, HO_SAC_PAR_SD, HO_DDPG_SD], COLORS, SAC_LABELS):
    draw(ax, grid(1e6, len(y)), y, sd, c, lab, scale=1000)
style(ax, 1e6, mx, (-70, 4070), np.arange(0, 4001, 1000))
legend(ax)

# ---------------- Walker ----------------
ax = add_ax(1032, 43, 1304, 222)
for y, sd, c, lab in zip([WA_PPO_ESA, WA_PPO, WA_PPO_PAR],
                         [WA_PPO_ESA_SD, WA_PPO_SD, WA_PPO_PAR_SD], COLORS, PPO_LABELS):
    draw(ax, grid(1e6, len(y)), y, sd, c, lab, scale=1000)
style(ax, 1e6, mx, (-80, 5320), np.arange(0, 5001, 1000))
legend(ax)

ax = add_ax(1034, 258, 1303, 433)
for y, sd, c, lab in zip([WA_SAC_ESA, WA_SAC, WA_SAC_PAR, WA_DDPG],
                         [WA_SAC_ESA_SD, WA_SAC_SD, WA_SAC_PAR_SD, WA_DDPG_SD], COLORS, SAC_LABELS):
    draw(ax, grid(1e6, len(y)), y, sd, c, lab, scale=1000)
style(ax, 1e6, mx, (-40, 5480), np.arange(0, 5001, 1000))
legend(ax)

fig.savefig("out.png", dpi=100, facecolor="white")
